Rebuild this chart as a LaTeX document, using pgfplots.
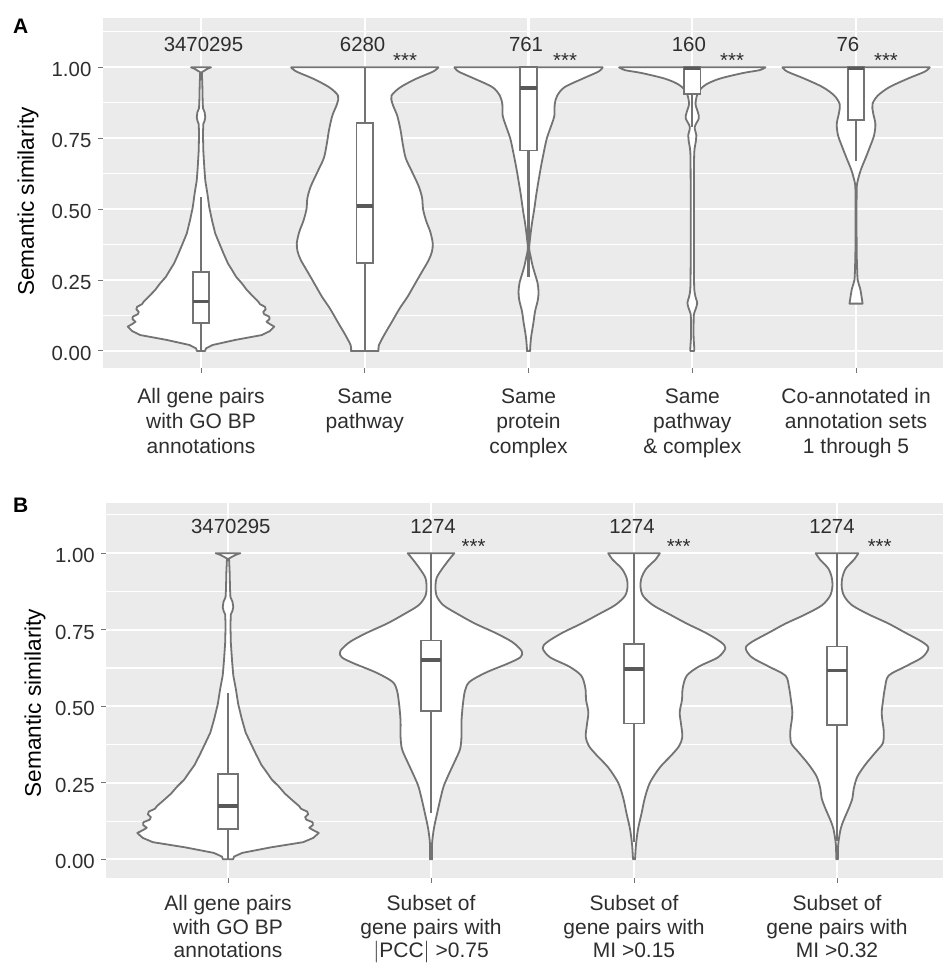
\documentclass[border=0pt]{standalone}
\usepackage{fontspec}
\setmainfont{Liberation Sans}
\usepackage{pgfplots}
\pgfplotsset{compat=1.18}
\usepackage{pgfplotstable}
\usepgfplotslibrary{fillbetween,statistics}
\definecolor{ggbg}{HTML}{EBEBEB}
\definecolor{vgray}{HTML}{737373}
\definecolor{txt}{HTML}{2E2E2E}

% violin half-widths (category units) vs similarity
\pgfplotstableread{
y w
0.000 0.025
0.009 0.030
0.021 0.070
0.039 0.210
0.056 0.370
0.070 0.420
0.086 0.447
0.095 0.420
0.103 0.400
0.112 0.418
0.121 0.417
0.130 0.385
0.138 0.380
0.147 0.395
0.156 0.390
0.165 0.360
0.174 0.350
0.197 0.310
0.215 0.280
0.238 0.250
0.261 0.215
0.285 0.190
0.308 0.165
0.343 0.138
0.379 0.112
0.414 0.087
0.461 0.067
0.508 0.050
0.555 0.039
0.601 0.026
0.648 0.020
0.707 0.014
0.766 0.012
0.800 0.014
0.812 0.022
0.824 0.026
0.842 0.022
0.856 0.012
0.883 0.010
0.940 0.008
0.983 0.005
0.995 0.040
1.000 0.061
}\vAllGO
\pgfplotstableread{
y w
0.00 0.084
0.02 0.086
0.06 0.122
0.10 0.163
0.15 0.213
0.19 0.260
0.23 0.300
0.28 0.350
0.32 0.390
0.35 0.410
0.38 0.415
0.42 0.400
0.46 0.374
0.50 0.356
0.54 0.350
0.58 0.330
0.63 0.290
0.68 0.250
0.73 0.232
0.78 0.218
0.83 0.198
0.87 0.170
0.90 0.163
0.93 0.218
0.96 0.315
0.985 0.417
1.00 0.450
}\vPath
\pgfplotstableread{
y w
0.00 0.010
0.01 0.010
0.05 0.016
0.10 0.030
0.14 0.040
0.18 0.057
0.21 0.061
0.24 0.055
0.27 0.040
0.30 0.025
0.33 0.014
0.36 0.004
0.40 0.010
0.45 0.021
0.50 0.035
0.55 0.047
0.60 0.061
0.65 0.076
0.70 0.093
0.75 0.112
0.80 0.142
0.83 0.158
0.87 0.160
0.90 0.175
0.93 0.220
0.96 0.330
0.985 0.427
1.00 0.453
}\vComplex
\pgfplotstableread{
y w
0.00 0.012
0.01 0.012
0.05 0.008
0.10 0.008
0.13 0.010
0.15 0.022
0.17 0.030
0.19 0.020
0.22 0.012
0.30 0.010
0.40 0.010
0.50 0.010
0.60 0.010
0.70 0.012
0.74 0.022
0.76 0.025
0.79 0.015
0.82 0.040
0.84 0.035
0.87 0.020
0.90 0.028
0.92 0.045
0.94 0.085
0.96 0.167
0.98 0.310
0.99 0.410
1.00 0.447
}\vPathComplex
\pgfplotstableread{
y w
0.167 0.040
0.19 0.034
0.22 0.025
0.25 0.010
0.30 0.006
0.35 0.004
0.45 0.003
0.57 0.004
0.60 0.010
0.64 0.030
0.68 0.058
0.72 0.085
0.76 0.110
0.80 0.118
0.84 0.104
0.87 0.100
0.90 0.132
0.93 0.203
0.96 0.315
0.985 0.420
1.00 0.450
}\vCoAnn
\pgfplotstableread{
y w
0.00 0.005
0.05 0.005
0.10 0.014
0.15 0.030
0.20 0.047
0.24 0.063
0.28 0.089
0.32 0.117
0.36 0.143
0.40 0.150
0.45 0.150
0.50 0.156
0.55 0.167
0.58 0.190
0.61 0.270
0.64 0.380
0.66 0.440
0.68 0.447
0.71 0.400
0.74 0.316
0.77 0.217
0.80 0.135
0.83 0.061
0.86 0.028
0.89 0.022
0.92 0.028
0.95 0.056
0.98 0.090
1.00 0.115
}\vPCC
\pgfplotstableread{
y w
0.00 0.005
0.05 0.010
0.10 0.020
0.15 0.037
0.20 0.053
0.25 0.078
0.30 0.127
0.34 0.184
0.37 0.222
0.40 0.238
0.44 0.232
0.48 0.225
0.52 0.236
0.56 0.240
0.60 0.260
0.63 0.320
0.66 0.414
0.69 0.450
0.71 0.427
0.74 0.353
0.77 0.260
0.80 0.176
0.83 0.094
0.86 0.045
0.89 0.032
0.92 0.037
0.95 0.061
0.98 0.107
1.00 0.127
}\vMIa
\pgfplotstableread{
y w
0.00 0.004
0.05 0.006
0.10 0.018
0.13 0.034
0.17 0.060
0.20 0.076
0.23 0.082
0.27 0.100
0.31 0.140
0.35 0.190
0.38 0.226
0.42 0.230
0.45 0.224
0.48 0.220
0.52 0.227
0.56 0.236
0.60 0.254
0.63 0.337
0.66 0.420
0.69 0.450
0.71 0.420
0.74 0.337
0.77 0.254
0.80 0.156
0.83 0.074
0.86 0.035
0.89 0.023
0.92 0.026
0.95 0.043
0.98 0.085
1.00 0.105
}\vMIb

% #1 table, #2 centre, #3 name, #4 extra options (smooth)
\newcommand{\violin}[4]{%
 \addplot[draw=none, forget plot, #4, name path=#3R] table[x expr=#2+\thisrow{w}, y=y]{#1};
 \addplot[draw=none, forget plot, #4, name path=#3L] table[x expr=#2-\thisrow{w}, y=y]{#1};
 \addplot[fill=white, draw=vgray, line width=0.9pt, line join=round, forget plot] fill between[of=#3R and #3L, reverse=true];
}
% box: position, lower whisker, q1, median, q3, upper whisker
\newcommand{\bx}[6]{%
 \addplot[draw=vgray, fill=white, line width=0.9pt, mark=none, solid, forget plot,
  boxplot/draw direction=y,
  boxplot prepared={draw position=#1, lower whisker=#2, lower quartile=#3,
  median=#4, upper quartile=#5, upper whisker=#6, box extend=0.1, whisker extend=0}]
  coordinates {};
}

\newcommand{\fsN}{\fontsize{10.2}{12}\selectfont}
\pgfplotsset{
 boxplot/every median/.style={line width=1.6pt, draw=black!65},
 boxplot/every whisker/.style={line width=1.05pt, draw=vgray},
 boxplot/every box/.style={line width=0.9pt, draw=vgray, fill=white},
 ggstyle/.style={
  scale only axis, axis lines*=left, axis line style={draw=none,-},
  axis background/.style={fill=ggbg},
  ymajorgrids, yminorgrids, xmajorgrids,
  major grid style={white, line width=1.1pt},
  minor grid style={white, line width=0.55pt},
  tick align=outside, major tick length=2.5pt, minor tick length=0pt,
  tick style={black!55, line width=0.5pt},
  ytick={0,0.25,0.5,0.75,1}, yticklabels={0.00,0.25,0.50,0.75,1.00},
  minor ytick={0.125,0.375,0.625,0.875,1.125},
  yticklabel style={font=\fontsize{10.2}{12}\selectfont, text=txt, anchor=east, inner sep=0pt, xshift=-3pt, yshift=-1.2pt},
  xticklabel style={font=\fontsize{10.5}{12.5}\selectfont, text=txt, align=center, anchor=north, inner sep=0pt},
  clip=false,
 }
}

\begin{document}
\begin{tikzpicture}

% ---------- Panel A ----------
\begin{axis}[ggstyle, at={(51.375pt,297.5pt)}, anchor=south west,
 width=420.125pt, height=175pt,
 xmin=0.4, xmax=5.531, ymin=-0.06, ymax=1.174,
 xtick={1,2,3,4,5},
 xticklabels={{All gene pairs\\with GO BP\\annotations},{Same\\pathway},{Same\\protein\\complex},{Same\\pathway\\\& complex},{Co-annotated in\\annotation sets\\1 through 5}},
 xticklabel style={yshift=-7.5pt},
]
\violin{\vAllGO}{1}{aa}{sharp plot}
\violin{\vPath}{2}{ab}{smooth}
\violin{\vComplex}{3}{ac}{smooth}
\violin{\vPathComplex}{4}{ad}{smooth}
\violin{\vCoAnn}{5}{ae}{smooth}
\bx{1}{0}{0.10}{0.174}{0.278}{0.543}
\bx{2}{0}{0.309}{0.511}{0.803}{1}
\bx{3}{0.26}{0.707}{0.927}{1}{1}
\bx{4}{0.79}{0.906}{0.995}{1}{1}
\bx{5}{0.67}{0.813}{0.997}{1}{1}
\node[font=\fsN, text=txt, anchor=base] at (axis cs:1.015,1.055) {3470295};
\node[font=\fsN, text=txt, anchor=base] at (axis cs:1.987,1.055) {6280};
\node[font=\fsN, text=txt, anchor=base] at (axis cs:2.985,1.055) {761};
\node[font=\fsN, text=txt, anchor=base] at (axis cs:3.979,1.055) {160};
\node[font=\fsN, text=txt, anchor=base] at (axis cs:4.950,1.055) {76};
\node[font=\fsN, text=txt, anchor=base] at (axis cs:2.246,1.0) {***};
\node[font=\fsN, text=txt, anchor=base] at (axis cs:3.223,1.0) {***};
\node[font=\fsN, text=txt, anchor=base] at (axis cs:4.243,1.0) {***};
\node[font=\fsN, text=txt, anchor=base] at (axis cs:5.183,1.0) {***};
\end{axis}

% ---------- Panel B ----------
\begin{axis}[ggstyle, at={(53.1pt,42.5pt)}, anchor=south west,
 width=418.4pt, height=187.5pt,
 xmin=0.4, xmax=4.522, ymin=-0.061, ymax=1.164,
 xtick={1,2,3,4},
 xticklabels={{All gene pairs\\with GO BP\\annotations},{Subset of\\gene pairs with\\$|$PCC$|$ >0.75},{Subset of\\gene pairs with\\MI >0.15},{Subset of\\gene pairs with\\MI >0.32}},
 xticklabel style={yshift=-6pt, font=\fontsize{10.5}{11.8}\selectfont},
]
\violin{\vAllGO}{1}{ba}{sharp plot}
\violin{\vPCC}{2}{bb}{smooth}
\violin{\vMIa}{3}{bc}{smooth}
\violin{\vMIb}{4}{bd}{smooth}
\bx{1}{0}{0.098}{0.174}{0.279}{0.542}
\bx{2}{0.15}{0.485}{0.651}{0.715}{1}
\bx{3}{0.055}{0.444}{0.622}{0.704}{1}
\bx{4}{0.06}{0.439}{0.617}{0.695}{1}
\node[font=\fsN, text=txt, anchor=base] at (axis cs:1.014,1.065) {3470295};
\node[font=\fsN, text=txt, anchor=base] at (axis cs:2.010,1.065) {1274};
\node[font=\fsN, text=txt, anchor=base] at (axis cs:2.990,1.065) {1274};
\node[font=\fsN, text=txt, anchor=base] at (axis cs:3.975,1.065) {1274};
\node[font=\fsN, text=txt, anchor=base] at (axis cs:2.210,0.998) {***};
\node[font=\fsN, text=txt, anchor=base] at (axis cs:3.220,0.998) {***};
\node[font=\fsN, text=txt, anchor=base] at (axis cs:4.210,0.998) {***};
\end{axis}

% titles and panel letters
\node[rotate=90, font=\fontsize{11.3}{13}\selectfont, anchor=center] at (14pt,380.75pt) {Semantic similarity};
\node[rotate=90, font=\fontsize{11.3}{13}\selectfont, anchor=center] at (17.5pt,130pt) {Semantic similarity};
\node[font=\fontsize{10.5}{12}\selectfont\bfseries, anchor=base west, inner sep=0pt] at (6.3pt,464.8pt) {A};
\node[font=\fontsize{10.5}{12}\selectfont\bfseries, anchor=base west, inner sep=0pt] at (6.3pt,225pt) {B};
\pgfresetboundingbox
\path[use as bounding box] (0,0) rectangle (471.5pt,481.5pt);
\end{tikzpicture}
\end{document}
